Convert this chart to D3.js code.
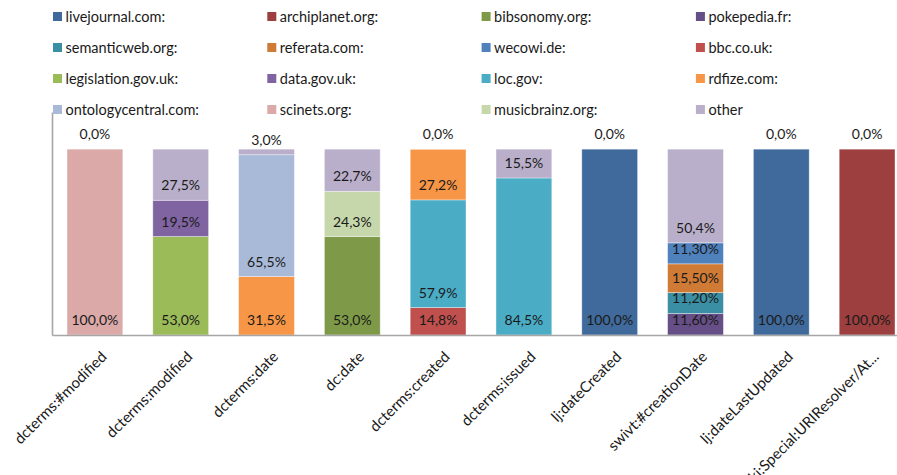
<!DOCTYPE html>
<html>
<head>
<meta charset="utf-8">
<script src="https://cdn.jsdelivr.net/npm/d3@7"></script>
<style>
  html, body { margin: 0; padding: 0; background: #fff; }
  svg { display: block; font-family: Lato, "Open Sans", sans-serif; }
</style>
</head>
<body>
<svg id="chart" width="897" height="475"></svg>
<script>
// ---- data ----
const categories = ['dcterms:#modified', 'dcterms:modified', 'dcterms:date', 'dc:date', 'dcterms:created',
  'dcterms:issued', 'lj:dateCreated', 'swivt:#creationDate', 'lj:dateLastUpdated', 'wiki:Special:URIResolver/At...'];

const seriesNames = ['livejournal.com:', 'archiplanet.org:', 'bibsonomy.org:', 'pokepedia.fr:',
  'semanticweb.org:', 'referata.com:', 'wecowi.de:', 'bbc.co.uk:',
  'legislation.gov.uk:', 'data.gov.uk:', 'loc.gov:', 'rdfize.com:',
  'ontologycentral.com:', 'scinets.org:', 'musicbrainz.org:', 'other'];

const seriesColors = ['#3F6A9B', '#9C3F3E', '#7E9A48', '#664E86',
  '#3A8FA4', '#D07B35', '#4F81BD', '#C0504D',
  '#9BBB59', '#8064A2', '#4BACC6', '#F79646',
  '#A9BAD8', '#DBA9A8', '#C6D7AB', '#B9AFCA'];

// values in %, null = no segment
const livejournal     = [null, null, null, null, null, null, 100.0, null, 100.0, null];
const archiplanet     = [null, null, null, null, null, null, null, null, null, 100.0];
const bibsonomy       = [null, null, null, 53.0, null, null, null, null, null, null];
const pokepedia       = [null, null, null, null, null, null, null, 11.60, null, null];
const semanticweb     = [null, null, null, null, null, null, null, 11.20, null, null];
const referata        = [null, null, null, null, null, null, null, 15.50, null, null];
const wecowi          = [null, null, null, null, null, null, null, 11.30, null, null];
const bbc             = [null, null, null, null, 14.8, null, null, null, null, null];
const legislation     = [null, 53.0, null, null, null, null, null, null, null, null];
const datagov         = [null, 19.5, null, null, null, null, null, null, null, null];
const locgov          = [null, null, null, null, 57.9, 84.5, null, null, null, null];
const rdfize          = [null, null, 31.5, null, 27.2, null, null, null, null, null];
const ontologycentral = [null, null, 65.5, null, null, null, null, null, null, null];
const scinets         = [100.0, null, null, null, null, null, null, null, null, null];
const musicbrainz     = [null, null, null, 24.3, null, null, null, null, null, null];
const other           = [0.0, 27.5, 3.0, 22.7, 0.0, 15.5, 0.0, 50.4, 0.0, 0.0];

const seriesValues = [livejournal, archiplanet, bibsonomy, pokepedia, semanticweb, referata, wecowi, bbc,
  legislation, datagov, locgov, rdfize, ontologycentral, scinets, musicbrainz, other];

// decimals shown in the data labels of each series
const seriesDecimals = [1, 1, 1, 2, 2, 2, 2, 1, 1, 1, 1, 1, 1, 1, 1, 1];

const yMax = 120;

// ---- layout ----
const svg = d3.select('#chart');
const plot = { left: 52, top: 112, bottom: 335, step: 85.8 };
const n = categories.length;

const x = d3.scaleBand()
  .domain(categories)
  .range([plot.left, plot.left + plot.step * n])
  .paddingInner(0.35)
  .paddingOuter(0.175);

const y = d3.scaleLinear().domain([0, yMax]).range([plot.bottom, plot.top]);

const rows = categories.map((c, i) => {
  const r = { category: c };
  seriesNames.forEach((s, j) => { r[s] = seriesValues[j][i]; });
  return r;
});

const stacked = d3.stack()
  .keys(seriesNames)
  .value((d, key) => d[key] == null ? 0 : d[key])(rows);

const fmt = (v, dec) => v.toFixed(dec).replace('.', ',') + '%';

// bars
const g = svg.append('g');
stacked.forEach((layer, j) => {
  const pts = layer.map((p, i) => ({ p, i, v: seriesValues[j][i] })).filter(d => d.v != null);
  g.selectAll(null).data(pts.filter(d => d.v > 0)).enter().append('rect')
    .attr('x', d => x(categories[d.i]))
    .attr('width', x.bandwidth())
    .attr('y', d => y(d.p[1]))
    .attr('height', d => y(d.p[0]) - y(d.p[1]))
    .attr('fill', seriesColors[j])
    .attr('stroke', 'rgba(255,255,255,0.45)')
    .attr('stroke-width', 0.8);
});

// labels
stacked.forEach((layer, j) => {
  const pts = layer.map((p, i) => ({ p, i, v: seriesValues[j][i] })).filter(d => d.v != null);
  g.selectAll(null).data(pts).enter().append('text')
    .attr('x', d => x(categories[d.i]) + x.bandwidth() / 2)
    .attr('y', d => y(d.p[0]) - 15)
    .attr('dy', '0.36em')
    .attr('text-anchor', 'middle')
    .attr('font-size', 14)
    .attr('fill', '#1a1a1a')
    .text(d => fmt(d.v, seriesDecimals[j]));
});

// axes
const axisColor = '#A6A6A6';
const yAxis = svg.append('g').attr('transform', `translate(${plot.left},0)`)
  .call(d3.axisLeft(y).tickValues([]).tickSizeOuter(0));
yAxis.select('.domain').attr('stroke', axisColor).attr('stroke-width', 1.6);

const xAxis = svg.append('g').attr('transform', `translate(0,${plot.bottom})`)
  .call(d3.axisBottom(x).tickSize(0).tickSizeOuter(0).tickPadding(0));
xAxis.select('.domain').attr('stroke', axisColor).attr('stroke-width', 1.6);
xAxis.selectAll('.tick text')
  .attr('font-family', 'Lato, sans-serif')
  .attr('font-size', 15)
  .attr('fill', '#1a1a1a')
  .attr('text-anchor', 'end')
  .attr('y', 0)
  .attr('dy', '0.35em')
  .attr('transform', 'translate(9,19) rotate(-45)');

// legend
const legend = svg.append('g');
seriesNames.forEach((s, j) => {
  const col = j % 4, row = Math.floor(j / 4);
  const lx = 53 + col * 214.3, ly = 16.5 + row * 31;
  legend.append('rect').attr('x', lx).attr('y', ly - 4.5).attr('width', 9).attr('height', 9)
    .attr('fill', seriesColors[j]);
  legend.append('text').attr('x', lx + 12.5).attr('y', ly).attr('dy', '0.36em')
    .attr('font-size', 14.5).attr('fill', '#1a1a1a').text(s);
});
</script>
</body>
</html>
